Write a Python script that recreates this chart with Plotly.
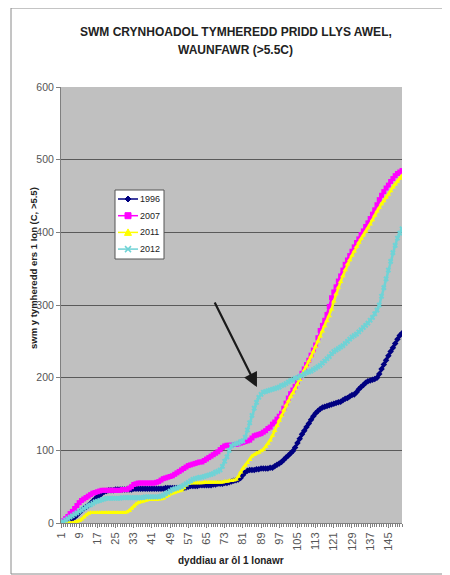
import plotly.graph_objects as go

days = list(range(1, 152))

s1996 = [0, 0, 1, 2, 4, 6, 8, 11, 14, 17,
         20, 22, 24, 27, 30, 33, 36, 38, 41, 43,
         44, 45, 45, 45, 46, 46, 46, 46, 46, 46,
         46, 46, 47, 47, 47, 47, 47, 47, 47, 47,
         47, 47, 47, 47, 47, 47, 48, 48, 48, 48,
         48, 48, 48, 48, 48, 49, 50, 51, 51, 51,
         51, 52, 52, 52, 52, 52, 52, 53, 53, 54,
         54, 54, 55, 55, 56, 57, 58, 59, 60, 62,
         66, 70, 72, 73, 73, 73, 74, 74, 75, 75,
         75, 75, 76, 76, 78, 80, 82, 84, 87, 90,
         93, 96, 99, 104, 110, 116, 122, 127, 132, 137,
         142, 147, 151, 154, 157, 159, 160, 161, 162, 163,
         164, 165, 166, 167, 169, 171, 172, 174, 176, 177,
         180, 184, 187, 190, 193, 195, 196, 197, 198, 200,
         205, 212, 218, 224, 230, 236, 241, 247, 253, 258, 261]

s2007 = [0, 3, 6, 9, 13, 16, 20, 24, 28, 31,
         33, 35, 37, 39, 41, 42, 43, 44, 45, 45,
         45, 45, 45, 45, 45, 45, 45, 46, 46, 46,
         48, 50, 53, 54, 55, 55, 55, 55, 55, 55,
         55, 55, 56, 57, 59, 61, 62, 63, 64, 65,
         67, 69, 71, 73, 75, 77, 79, 80, 81, 82,
         83, 84, 84, 86, 88, 90, 92, 94, 96, 98,
         101, 104, 106, 107, 107, 107, 108, 108, 109, 110,
         111, 112, 113, 114, 117, 120, 121, 122, 123, 125,
         127, 130, 132, 136, 139, 143, 147, 151, 158, 165,
         172, 178, 183, 188, 194, 200, 206, 212, 218, 224,
         231, 238, 245, 255, 265, 272, 279, 287, 298, 310,
         318, 325, 333, 340, 348, 356, 362, 368, 374, 380,
         386, 391, 397, 402, 408, 413, 419, 425, 431, 438,
         445, 451, 456, 461, 465, 470, 474, 478, 481, 483, 485]

s2011 = [0, 0, 0, 0, 0, 0, 1, 2, 3, 5,
         8, 11, 13, 14, 14, 14, 14, 14, 14, 14,
         14, 14, 14, 14, 14, 14, 14, 14, 14, 15,
         17, 20, 23, 26, 28, 29, 30, 31, 32, 32,
         32, 32, 32, 33, 33, 34, 36, 38, 40, 41,
         42, 43, 44, 45, 48, 52, 54, 55, 55, 55,
         55, 55, 55, 56, 56, 56, 56, 56, 56, 56,
         56, 56, 57, 57, 58, 58, 59, 60, 64, 70,
         75, 79, 83, 87, 92, 94, 96, 97, 99, 101,
         105, 109, 114, 120, 127, 134, 141, 148, 155, 162,
         168, 174, 179, 185, 191, 197, 204, 210, 216, 223,
         229, 236, 243, 250, 257, 264, 271, 278, 285, 294,
         305, 315, 324, 332, 340, 348, 356, 362, 368, 374,
         380, 386, 391, 396, 401, 406, 411, 417, 423, 429,
         434, 439, 443, 448, 452, 457, 462, 466, 470, 474, 478]

s2012 = [0, 2, 4, 6, 8, 10, 12, 14, 16, 18,
         20, 22, 24, 25, 27, 29, 30, 31, 32, 33,
         34, 34, 34, 34, 34, 34, 34, 35, 35, 35,
         35, 35, 35, 35, 35, 35, 35, 36, 36, 36,
         36, 36, 36, 36, 37, 38, 40, 42, 44, 46,
         47, 48, 49, 50, 52, 54, 56, 58, 60, 61,
         62, 63, 63, 64, 65, 66, 67, 68, 70, 71,
         73, 78, 85, 91, 100, 106, 108, 109, 110, 112,
         113, 118, 128, 138, 148, 158, 166, 173, 177, 180,
         181, 182, 183, 184, 185, 186, 187, 189, 190, 192,
         194, 196, 197, 199, 200, 202, 203, 205, 207, 208,
         209, 211, 213, 215, 217, 220, 223, 226, 229, 233,
         236, 238, 240, 242, 244, 247, 250, 253, 256, 258,
         260, 263, 266, 269, 272, 275, 279, 283, 288, 293,
         300, 312, 324, 336, 348, 360, 372, 382, 392, 399, 405]

tick_vals = [1, 9, 17, 25, 33, 41, 49, 57, 65, 73, 81, 89, 97, 105, 113, 121, 129, 137, 145]
tick_text = [str(v) for v in tick_vals]

title_lines = ["SWM CRYNHOADOL TYMHEREDD PRIDD LLYS AWEL,", "WAUNFAWR (>5.5C)"]
y_title = "swm y tymheredd ers 1 Ion (C, >5.5)"
x_title = "dyddiau ar ôl 1 Ionawr"

series = [
    ("1996", s1996, "#000080", "diamond"),
    ("2007", s2007, "#FF00FF", "square"),
    ("2011", s2011, "#FFFF00", "triangle-up"),
    ("2012", s2012, "#6FD3D6", "x"),
]

FONT = "Arial, Liberation Sans, sans-serif"

# plot area in screen pixels (page has an 8px body margin)
PL, PR, PT, PB = 61, 402, 87, 523
PW, PH = PR - PL, PB - PT


def px(x):
    return (x - PL) / PW


def py(y):
    return (PB - y) / PH


fig = go.Figure()
for name, vals, col, sym in series:
    fig.add_trace(go.Scatter(
        x=days, y=vals, name=name, mode="lines+markers",
        line=dict(color=col, width=2.5),
        marker=dict(color=col, symbol=sym, size=5, line=dict(width=0)),
        showlegend=False,
    ))

shapes = [
    dict(type="rect", xref="paper", yref="paper",
         x0=px(11), x1=px(447), y0=py(574), y1=py(8),
         line=dict(color="#8A8A8A", width=1), fillcolor="rgba(0,0,0,0)", layer="below"),
    # legend box
    dict(type="rect", xref="paper", yref="paper",
         x0=px(115), x1=px(164), y0=py(259), y1=py(190),
         line=dict(color="#555555", width=1), fillcolor="white", layer="above"),
]
annotations = []
for i, t in enumerate(title_lines):
    annotations.append(dict(
        text=t, xref="paper", yref="paper", x=px(235.5), y=py(32 + 18 * i),
        xanchor="center", yanchor="middle", showarrow=False,
        font=dict(family=FONT, size=12, color="#222222", weight="bold")))

annotations += [
    dict(text=y_title, textangle=-90,
         xref="paper", yref="paper", x=px(33), y=py(268),
         xanchor="center", yanchor="middle", showarrow=False,
         font=dict(family=FONT, size=9.5, color="#222222", weight="bold")),
    dict(text=x_title,
         xref="paper", yref="paper", x=px(231), y=py(560),
         xanchor="center", yanchor="middle", showarrow=False,
         font=dict(family=FONT, size=10, color="#222222", weight="bold")),
    dict(text="", x=87.2, y=187, xref="x", yref="y",
         ax=-43, ay=-86, showarrow=True, arrowhead=2, arrowsize=1.3,
         arrowwidth=2.2, arrowcolor="#1A1A1A", standoff=0),
]

marker_paths = {
    "diamond": "M -3 0 L 0 3 L 3 0 L 0 -3 Z",
    "square": "M -3 -3 L 3 -3 L 3 3 L -3 3 Z",
    "triangle-up": "M -3.5 -3 L 3.5 -3 L 0 3.5 Z",
    "x": "M -3 -3 L 3 3 M -3 3 L 3 -3",
}
for i, (name, vals, col, sym) in enumerate(series):
    ly = 199 + 16.7 * i
    shapes.append(dict(type="line", xref="paper", yref="paper",
                       x0=px(118), x1=px(138), y0=py(ly), y1=py(ly),
                       line=dict(color=col, width=1.5), layer="above"))
    filled = sym != "x"
    shapes.append(dict(type="path", xref="paper", yref="paper",
                       xsizemode="pixel", ysizemode="pixel",
                       xanchor=px(128), yanchor=py(ly),
                       path=marker_paths[sym],
                       fillcolor=col if filled else "rgba(0,0,0,0)",
                       line=dict(color=col, width=1 if filled else 1.5), layer="above"))
    annotations.append(dict(text=name, xref="paper", yref="paper",
                            x=px(139), y=py(ly), xanchor="left", yanchor="middle",
                            showarrow=False, borderpad=0,
                            font=dict(family=FONT, size=9, color="#222222")))

fig.update_layout(
    width=442, height=567,
    margin=dict(l=PL - 8, r=450 - PR, t=PT - 8, b=575 - PB),
    paper_bgcolor="white",
    plot_bgcolor="#C0C0C0",
    font=dict(family=FONT, color="#333333"),
    showlegend=False,
    xaxis=dict(
        range=[1, 151], tickmode="array", tickvals=tick_vals, ticktext=tick_text,
        tickangle=-90, tickfont=dict(family=FONT, size=11, color="#555555"),
        ticks="outside", ticklen=4, tickcolor="#808080",
        minor=dict(tickmode="linear", tick0=1, dtick=1, ticks="outside", ticklen=3,
                   tickcolor="#808080", showgrid=False),
        showgrid=False, zeroline=False, showline=True, linecolor="#808080",
    ),
    yaxis=dict(
        range=[0, 600], dtick=100, tickfont=dict(family=FONT, size=10.5, color="#555555"),
        ticks="outside", ticklen=4, tickcolor="#808080",
        showgrid=True, gridcolor="#5A5A5A", gridwidth=1,
        zeroline=False, showline=True, linecolor="#808080",
    ),
    shapes=shapes,
    annotations=annotations,
)

fig.write_html("out.html")
